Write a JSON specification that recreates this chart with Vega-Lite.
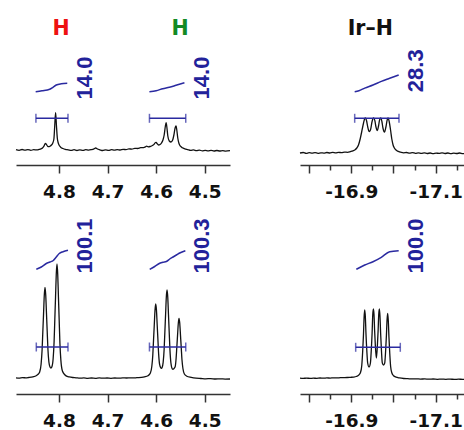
{
"$schema":"https://vega.github.io/schema/vega-lite/v6.json",
"padding":{"left":13,"top":10,"right":0,"bottom":0},
"bounds":"flush",
"columns":2,
"spacing":{"row":35,"column":70},
"config":{"view":{"stroke":null},"axis":{"domainColor":"#333","domainWidth":1.5,"tickColor":"#333","tickWidth":1.5,"labelFont":"DejaVu Sans","labelFontWeight":"bold","labelFontSize":18.5,"labelColor":"#111","labelPadding":9,"grid":false,"labelFlush":false,"labelOverlap":false}},
"concat":[
{"width":214,"height":155,
"layer":[
{"data":{"values":[
{"ppm":4.8885,"v":0.4},{"ppm":4.882,"v":-0.3},{"ppm":4.876,"v":0.5},{"ppm":4.870,"v":-0.2},{"ppm":4.864,"v":0.4},{"ppm":4.858,"v":-0.3},{"ppm":4.852,"v":0.3},{"ppm":4.846,"v":0.1},{"ppm":4.841,"v":0.6},{"ppm":4.837,"v":1.2},{"ppm":4.834,"v":2},{"ppm":4.831,"v":3.8},{"ppm":4.8285,"v":6.3},{"ppm":4.8275,"v":6.7},{"ppm":4.826,"v":5.6},{"ppm":4.8235,"v":3.8},{"ppm":4.821,"v":3.3},{"ppm":4.8185,"v":3.8},{"ppm":4.8155,"v":5},{"ppm":4.813,"v":6.8},{"ppm":4.8105,"v":11},{"ppm":4.8088,"v":24},{"ppm":4.807,"v":37.3},{"ppm":4.8052,"v":24},{"ppm":4.8035,"v":12},{"ppm":4.8015,"v":7},{"ppm":4.799,"v":4.2},{"ppm":4.796,"v":2.6},{"ppm":4.792,"v":1.5},{"ppm":4.787,"v":0.6},{"ppm":4.781,"v":0.2},{"ppm":4.775,"v":-0.4},{"ppm":4.769,"v":0.3},{"ppm":4.763,"v":-0.5},{"ppm":4.757,"v":0.2},{"ppm":4.751,"v":-0.4},{"ppm":4.745,"v":0.3},{"ppm":4.739,"v":-0.2},{"ppm":4.733,"v":0.4},{"ppm":4.728,"v":1.2},{"ppm":4.7245,"v":2},{"ppm":4.721,"v":1},{"ppm":4.716,"v":0.2},{"ppm":4.710,"v":-0.5},{"ppm":4.704,"v":0.1},{"ppm":4.698,"v":-0.4},{"ppm":4.692,"v":0.3},{"ppm":4.686,"v":-0.2},{"ppm":4.680,"v":0.4},{"ppm":4.674,"v":0},{"ppm":4.668,"v":0.6},{"ppm":4.662,"v":0.4},{"ppm":4.656,"v":1.1},{"ppm":4.650,"v":0.9},{"ppm":4.644,"v":1.6},{"ppm":4.638,"v":1.5},{"ppm":4.632,"v":2.3},{"ppm":4.626,"v":2.4},{"ppm":4.622,"v":3.1},{"ppm":4.6195,"v":3.8},{"ppm":4.6165,"v":3.2},{"ppm":4.6125,"v":3.5},{"ppm":4.6085,"v":4.3},{"ppm":4.6045,"v":5.6},{"ppm":4.6015,"v":7.5},{"ppm":4.600,"v":7.7},{"ppm":4.598,"v":6.3},{"ppm":4.595,"v":5},{"ppm":4.592,"v":5.5},{"ppm":4.589,"v":7},{"ppm":4.586,"v":10},{"ppm":4.5835,"v":15},{"ppm":4.581,"v":24},{"ppm":4.5795,"v":27.3},{"ppm":4.578,"v":23},{"ppm":4.576,"v":14},{"ppm":4.573,"v":9},{"ppm":4.5695,"v":8},{"ppm":4.566,"v":10},{"ppm":4.5635,"v":15},{"ppm":4.561,"v":22},{"ppm":4.559,"v":24},{"ppm":4.5575,"v":20},{"ppm":4.5555,"v":12},{"ppm":4.553,"v":6.5},{"ppm":4.550,"v":3.8},{"ppm":4.546,"v":2.2},{"ppm":4.541,"v":1.2},{"ppm":4.535,"v":0.4},{"ppm":4.529,"v":-0.4},{"ppm":4.523,"v":0.1},{"ppm":4.517,"v":-0.7},{"ppm":4.511,"v":-0.2},{"ppm":4.505,"v":-0.8},{"ppm":4.499,"v":-0.3},{"ppm":4.493,"v":-0.9},{"ppm":4.487,"v":-0.4},{"ppm":4.481,"v":-1.0},{"ppm":4.475,"v":-0.5},{"ppm":4.469,"v":-1.0},{"ppm":4.463,"v":-0.6},{"ppm":4.457,"v":-1.1},{"ppm":4.448,"v":-0.7}]},
"mark":{"type":"line","color":"#111","strokeWidth":1.3,"interpolate":"monotone"},
"encoding":{"x":{"field":"ppm","type":"quantitative","title":null,"scale":{"domain":[4.448,4.8885],"reverse":true,"nice":false,"zero":false},
"axis":{"values":[4.85,4.8,4.75,4.7,4.65,4.6,4.55,4.5],"labelExpr":"abs(datum.value*10-round(datum.value*10))<0.01 ? format(datum.value,'.1f') : ''","tickSize":{"condition":{"test":"abs(datum.value*10-round(datum.value*10))<0.01","value":8},"value":5}}},
"y":{"field":"v","type":"quantitative","axis":null,"scale":{"domain":[-15,140],"nice":false,"zero":false}}}},
{"data":{"values":[{"g":1,"ppm":4.848,"v":58.3},{"g":1,"ppm":4.835,"v":59.2},{"g":1,"ppm":4.8191,"v":60.7},{"g":1,"ppm":4.8124,"v":62.7},{"g":1,"ppm":4.8056,"v":65},{"g":1,"ppm":4.7953,"v":66.2},{"g":1,"ppm":4.783,"v":66.7},
{"g":2,"ppm":4.6139,"v":58.3},{"g":2,"ppm":4.6,"v":59.3},{"g":2,"ppm":4.5864,"v":61.3},{"g":2,"ppm":4.5727,"v":62.7},{"g":2,"ppm":4.5591,"v":64.7},{"g":2,"ppm":4.5418,"v":67.3}]},
"mark":{"type":"line","color":"#2a2aa0","strokeWidth":1.5,"interpolate":"monotone"},
"encoding":{"x":{"field":"ppm","type":"quantitative","title":null},"y":{"field":"v","type":"quantitative"},"detail":{"field":"g"}}},
{"data":{"values":[{"a":4.8475,"b":4.7815,"v":31.7},{"a":4.6138,"b":4.5391,"v":31.7}]},
"mark":{"type":"rule","color":"#2a2aa0","strokeWidth":1.5},
"encoding":{"x":{"field":"a","type":"quantitative","title":null},"x2":{"field":"b"},"y":{"field":"v","type":"quantitative"}}},
{"data":{"values":[{"a":4.8475,"b":4.7815,"v":31.7},{"a":4.6138,"b":4.5391,"v":31.7}]},
"transform":[{"fold":["a","b"],"as":["end","ppm"]}],
"mark":{"type":"tick","orient":"vertical","color":"#2a2aa0","size":9,"thickness":1.5},
"encoding":{"x":{"field":"ppm","type":"quantitative","title":null},"y":{"field":"v","type":"quantitative"}}},
{"data":{"values":[{"ppm":4.7471,"v":72,"t":"14.0"},{"ppm":4.5056,"v":72,"t":"14.0"}]},
"mark":{"type":"text","angle":270,"align":"center","baseline":"middle","font":"Liberation Sans","fontWeight":"bold","fontSize":22,"color":"#22229a"},
"encoding":{"x":{"field":"ppm","type":"quantitative","title":null},"y":{"field":"v","type":"quantitative"},"text":{"field":"t"}}},
{"data":{"values":[{"ppm":4.7959,"v":120.7,"t":"H"}]},
"mark":{"type":"text","align":"center","baseline":"middle","font":"DejaVu Sans","fontWeight":"bold","fontSize":20.5,"color":"#ee1111"},
"encoding":{"x":{"field":"ppm","type":"quantitative","title":null},"y":{"field":"v","type":"quantitative"},"text":{"field":"t"}}},
{"data":{"values":[{"ppm":4.5508,"v":120.7,"t":"H"}]},
"mark":{"type":"text","align":"center","baseline":"middle","font":"DejaVu Sans","fontWeight":"bold","fontSize":20.5,"color":"#138a24"},
"encoding":{"x":{"field":"ppm","type":"quantitative","title":null},"y":{"field":"v","type":"quantitative"},"text":{"field":"t"}}}
]},
{"width":167,"height":155,
"layer":[
{"data":{"values":[
{"ppm":-16.7784,"v":-3.0},{"ppm":-16.786,"v":-2.5},{"ppm":-16.793,"v":-3.4},{"ppm":-16.800,"v":-2.7},{"ppm":-16.807,"v":-3.2},{"ppm":-16.814,"v":-2.6},{"ppm":-16.821,"v":-3.3},{"ppm":-16.828,"v":-2.8},{"ppm":-16.835,"v":-3.1},{"ppm":-16.842,"v":-2.5},{"ppm":-16.849,"v":-3.0},{"ppm":-16.856,"v":-2.4},{"ppm":-16.863,"v":-2.9},{"ppm":-16.870,"v":-2.3},{"ppm":-16.877,"v":-2.7},{"ppm":-16.884,"v":-2.1},{"ppm":-16.891,"v":-2.3},{"ppm":-16.898,"v":-1.6},{"ppm":-16.904,"v":-0.8},{"ppm":-16.909,"v":0.3},{"ppm":-16.913,"v":2},{"ppm":-16.917,"v":5},{"ppm":-16.921,"v":11},{"ppm":-16.925,"v":19},{"ppm":-16.929,"v":27},{"ppm":-16.9315,"v":31},{"ppm":-16.9336,"v":32},{"ppm":-16.936,"v":29.5},{"ppm":-16.939,"v":23},{"ppm":-16.9415,"v":19},{"ppm":-16.9435,"v":18.5},{"ppm":-16.946,"v":21},{"ppm":-16.949,"v":28},{"ppm":-16.951,"v":31},{"ppm":-16.9533,"v":32},{"ppm":-16.956,"v":29},{"ppm":-16.9585,"v":23},{"ppm":-16.9616,"v":19.5},{"ppm":-16.9645,"v":24},{"ppm":-16.967,"v":30},{"ppm":-16.9699,"v":32},{"ppm":-16.9725,"v":28.5},{"ppm":-16.975,"v":22},{"ppm":-16.9787,"v":18},{"ppm":-16.982,"v":23},{"ppm":-16.985,"v":30},{"ppm":-16.9874,"v":32},{"ppm":-16.990,"v":28},{"ppm":-16.993,"v":20},{"ppm":-16.996,"v":11},{"ppm":-16.999,"v":5},{"ppm":-17.002,"v":2},{"ppm":-17.006,"v":0},{"ppm":-17.011,"v":-1.4},{"ppm":-17.017,"v":-2.2},{"ppm":-17.024,"v":-2.8},{"ppm":-17.031,"v":-2.5},{"ppm":-17.038,"v":-3.2},{"ppm":-17.045,"v":-2.6},{"ppm":-17.052,"v":-3.3},{"ppm":-17.059,"v":-2.8},{"ppm":-17.066,"v":-3.4},{"ppm":-17.073,"v":-2.9},{"ppm":-17.080,"v":-3.5},{"ppm":-17.087,"v":-3.0},{"ppm":-17.094,"v":-3.6},{"ppm":-17.101,"v":-3.1},{"ppm":-17.108,"v":-3.4},{"ppm":-17.115,"v":-2.9},{"ppm":-17.122,"v":-3.5},{"ppm":-17.129,"v":-3.0},{"ppm":-17.136,"v":-3.6},{"ppm":-17.143,"v":-3.1},{"ppm":-17.150,"v":-3.5},{"ppm":-17.157,"v":-3.0},{"ppm":-17.164,"v":-3.6},{"ppm":-17.1742,"v":-3.2}]},
"mark":{"type":"line","color":"#111","strokeWidth":1.3,"interpolate":"monotone"},
"encoding":{"x":{"field":"ppm","type":"quantitative","title":null,"scale":{"domain":[-17.1742,-16.7784],"reverse":true,"nice":false,"zero":false},
"axis":{"values":[-16.8,-16.85,-16.9,-16.95,-17.0,-17.05,-17.1,-17.15],"labelExpr":"abs(datum.value*10-round(datum.value*10))<0.01 && round(datum.value*10) % 2 != 0 ? '-' + format(-datum.value,'.1f') : ''","tickSize":{"condition":{"test":"abs(datum.value*10-round(datum.value*10))<0.01","value":8},"value":5}}},
"y":{"field":"v","type":"quantitative","axis":null,"scale":{"domain":[-15,140],"nice":false,"zero":false}}}},
{"data":{"values":[{"ppm":-16.908,"v":58.3},{"ppm":-16.918,"v":59.3},{"ppm":-16.9318,"v":61.9},{"ppm":-16.9514,"v":65},{"ppm":-16.9711,"v":68.6},{"ppm":-16.991,"v":71.7},{"ppm":-17.0123,"v":75}]},
"mark":{"type":"line","color":"#2a2aa0","strokeWidth":1.5,"interpolate":"monotone"},
"encoding":{"x":{"field":"ppm","type":"quantitative","title":null,"axis":{"values":[-16.8,-16.85,-16.9,-16.95,-17.0,-17.05,-17.1,-17.15],"labelExpr":"abs(datum.value*10-round(datum.value*10))<0.01 && round(datum.value*10) % 2 != 0 ? '-' + format(-datum.value,'.1f') : ''","tickSize":{"condition":{"test":"abs(datum.value*10-round(datum.value*10))<0.01","value":8},"value":5}}},"y":{"field":"v","type":"quantitative"}}},
{"data":{"values":[{"a":-16.908,"b":-17.013,"v":31.7}]},
"mark":{"type":"rule","color":"#2a2aa0","strokeWidth":1.5},
"encoding":{"x":{"field":"a","type":"quantitative","title":null,"axis":{"values":[-16.8,-16.85,-16.9,-16.95,-17.0,-17.05,-17.1,-17.15],"labelExpr":"abs(datum.value*10-round(datum.value*10))<0.01 && round(datum.value*10) % 2 != 0 ? '-' + format(-datum.value,'.1f') : ''","tickSize":{"condition":{"test":"abs(datum.value*10-round(datum.value*10))<0.01","value":8},"value":5}}},"x2":{"field":"b"},"y":{"field":"v","type":"quantitative"}}},
{"data":{"values":[{"a":-16.908,"b":-17.013,"v":31.7}]},
"transform":[{"fold":["a","b"],"as":["end","ppm"]}],
"mark":{"type":"tick","orient":"vertical","color":"#2a2aa0","size":9,"thickness":1.5},
"encoding":{"x":{"field":"ppm","type":"quantitative","title":null,"axis":{"values":[-16.8,-16.85,-16.9,-16.95,-17.0,-17.05,-17.1,-17.15],"labelExpr":"abs(datum.value*10-round(datum.value*10))<0.01 && round(datum.value*10) % 2 != 0 ? '-' + format(-datum.value,'.1f') : ''","tickSize":{"condition":{"test":"abs(datum.value*10-round(datum.value*10))<0.01","value":8},"value":5}}},"y":{"field":"v","type":"quantitative"}}},
{"data":{"values":[{"ppm":-17.054,"v":79.2,"t":"28.3"}]},
"mark":{"type":"text","angle":270,"align":"center","baseline":"middle","font":"Liberation Sans","fontWeight":"bold","fontSize":22,"color":"#22229a"},
"encoding":{"x":{"field":"ppm","type":"quantitative","title":null,"axis":{"values":[-16.8,-16.85,-16.9,-16.95,-17.0,-17.05,-17.1,-17.15],"labelExpr":"abs(datum.value*10-round(datum.value*10))<0.01 && round(datum.value*10) % 2 != 0 ? '-' + format(-datum.value,'.1f') : ''","tickSize":{"condition":{"test":"abs(datum.value*10-round(datum.value*10))<0.01","value":8},"value":5}}},"y":{"field":"v","type":"quantitative"},"text":{"field":"t"}}},
{"data":{"values":[{"ppm":-16.945,"v":121,"t":"Ir–H"}]},
"mark":{"type":"text","align":"center","baseline":"middle","font":"DejaVu Sans","fontWeight":"bold","fontSize":20.5,"color":"#111"},
"encoding":{"x":{"field":"ppm","type":"quantitative","title":null,"axis":{"values":[-16.8,-16.85,-16.9,-16.95,-17.0,-17.05,-17.1,-17.15],"labelExpr":"abs(datum.value*10-round(datum.value*10))<0.01 && round(datum.value*10) % 2 != 0 ? '-' + format(-datum.value,'.1f') : ''","tickSize":{"condition":{"test":"abs(datum.value*10-round(datum.value*10))<0.01","value":8},"value":5}}},"y":{"field":"v","type":"quantitative"},"text":{"field":"t"}}}
]},
{"width":214,"height":194,
"layer":[
{"data":{"values":[
{"ppm":4.8885,"v":0.2},{"ppm":4.882,"v":-0.1},{"ppm":4.875,"v":0.3},{"ppm":4.868,"v":0.2},{"ppm":4.862,"v":0.5},{"ppm":4.857,"v":0.8},{"ppm":4.852,"v":1.3},{"ppm":4.847,"v":2.3},{"ppm":4.8425,"v":4},{"ppm":4.8398,"v":6},{"ppm":4.8368,"v":14},{"ppm":4.8348,"v":28},{"ppm":4.8333,"v":46},{"ppm":4.8318,"v":64},{"ppm":4.8303,"v":82.5},{"ppm":4.8288,"v":90.7},{"ppm":4.8273,"v":83},{"ppm":4.8258,"v":65},{"ppm":4.8243,"v":47},{"ppm":4.8228,"v":29},{"ppm":4.8208,"v":16},{"ppm":4.8185,"v":11},{"ppm":4.8165,"v":10},{"ppm":4.8148,"v":11},{"ppm":4.8121,"v":19},{"ppm":4.8101,"v":36},{"ppm":4.8086,"v":58.6},{"ppm":4.8071,"v":81},{"ppm":4.8056,"v":104},{"ppm":4.8041,"v":114},{"ppm":4.8026,"v":103.5},{"ppm":4.8011,"v":80.6},{"ppm":4.7996,"v":57.7},{"ppm":4.7981,"v":34.8},{"ppm":4.7961,"v":17.6},{"ppm":4.7931,"v":7.2},{"ppm":4.7881,"v":3.2},{"ppm":4.783,"v":1.6},{"ppm":4.7791,"v":1.1},{"ppm":4.772,"v":0.5},{"ppm":4.765,"v":0.2},{"ppm":4.757,"v":-0.2},{"ppm":4.749,"v":0.1},{"ppm":4.741,"v":-0.3},{"ppm":4.733,"v":0},{"ppm":4.725,"v":-0.3},{"ppm":4.717,"v":0.1},{"ppm":4.709,"v":-0.2},{"ppm":4.701,"v":0},{"ppm":4.693,"v":-0.3},{"ppm":4.685,"v":0},{"ppm":4.677,"v":-0.2},{"ppm":4.669,"v":0.1},{"ppm":4.661,"v":0},{"ppm":4.653,"v":0.2},{"ppm":4.645,"v":0.1},{"ppm":4.640,"v":0.3},{"ppm":4.630,"v":0.6},{"ppm":4.624,"v":1.1},{"ppm":4.6169,"v":2.2},{"ppm":4.6119,"v":4.9},{"ppm":4.6089,"v":11.7},{"ppm":4.6069,"v":23},{"ppm":4.6054,"v":38},{"ppm":4.6039,"v":52.8},{"ppm":4.6024,"v":67.5},{"ppm":4.6009,"v":74},{"ppm":4.5994,"v":68},{"ppm":4.5979,"v":53.3},{"ppm":4.5964,"v":38.7},{"ppm":4.5949,"v":24.1},{"ppm":4.5929,"v":13.6},{"ppm":4.5905,"v":10.2},{"ppm":4.5892,"v":9.7},{"ppm":4.5879,"v":10.3},{"ppm":4.5856,"v":15.6},{"ppm":4.5836,"v":28.5},{"ppm":4.5821,"v":45.8},{"ppm":4.5806,"v":63.3},{"ppm":4.5791,"v":80.8},{"ppm":4.5776,"v":88},{"ppm":4.5761,"v":80.6},{"ppm":4.5746,"v":63},{"ppm":4.5731,"v":45.5},{"ppm":4.5716,"v":28.1},{"ppm":4.5696,"v":15},{"ppm":4.5668,"v":9.2},{"ppm":4.5653,"v":8.7},{"ppm":4.5638,"v":9.3},{"ppm":4.5609,"v":11.2},{"ppm":4.5589,"v":19.8},{"ppm":4.5574,"v":31.4},{"ppm":4.5559,"v":43.1},{"ppm":4.5544,"v":54.8},{"ppm":4.5529,"v":59.7},{"ppm":4.5514,"v":54.6},{"ppm":4.5499,"v":42.6},{"ppm":4.5484,"v":30.6},{"ppm":4.5469,"v":18.5},{"ppm":4.5449,"v":9.5},{"ppm":4.5419,"v":4},{"ppm":4.5369,"v":1.8},{"ppm":4.5279,"v":0.6},{"ppm":4.518,"v":-0.2},{"ppm":4.508,"v":-0.5},{"ppm":4.498,"v":-0.8},{"ppm":4.488,"v":-0.6},{"ppm":4.478,"v":-1.0},{"ppm":4.468,"v":-0.8},{"ppm":4.458,"v":-1.1},{"ppm":4.448,"v":-1.0}]},
"mark":{"type":"line","color":"#111","strokeWidth":1.3,"interpolate":"monotone"},
"encoding":{"x":{"field":"ppm","type":"quantitative","title":null,"scale":{"domain":[4.448,4.8885],"reverse":true,"nice":false,"zero":false},
"axis":{"values":[4.85,4.8,4.75,4.7,4.65,4.6,4.55,4.5],"labelExpr":"abs(datum.value*10-round(datum.value*10))<0.01 ? format(datum.value,'.1f') : ''","tickSize":{"condition":{"test":"abs(datum.value*10-round(datum.value*10))<0.01","value":8},"value":5}}},
"y":{"field":"v","type":"quantitative","axis":null,"scale":{"domain":[-16,178],"nice":false,"zero":false}}}},
{"data":{"values":[{"g":1,"ppm":4.8467,"v":108.7},{"g":1,"ppm":4.8364,"v":111},{"g":1,"ppm":4.8261,"v":114.5},{"g":1,"ppm":4.8185,"v":116},{"g":1,"ppm":4.8117,"v":117.5},{"g":1,"ppm":4.8056,"v":121},{"g":1,"ppm":4.7995,"v":124.5},{"g":1,"ppm":4.7918,"v":126.3},{"g":1,"ppm":4.7815,"v":127.8},
{"g":2,"ppm":4.6133,"v":108.7},{"g":2,"ppm":4.603,"v":111.5},{"g":2,"ppm":4.5927,"v":114.7},{"g":2,"ppm":4.5859,"v":115.8},{"g":2,"ppm":4.579,"v":116.5},{"g":2,"ppm":4.5721,"v":119},{"g":2,"ppm":4.5652,"v":121},{"g":2,"ppm":4.5584,"v":123},{"g":2,"ppm":4.5515,"v":125},{"g":2,"ppm":4.5399,"v":127.3}]},
"mark":{"type":"line","color":"#2a2aa0","strokeWidth":1.5,"interpolate":"monotone"},
"encoding":{"x":{"field":"ppm","type":"quantitative","title":null},"y":{"field":"v","type":"quantitative"},"detail":{"field":"g"}}},
{"data":{"values":[{"a":4.8467,"b":4.7815,"v":31},{"a":4.6138,"b":4.5391,"v":31}]},
"mark":{"type":"rule","color":"#2a2aa0","strokeWidth":1.5},
"encoding":{"x":{"field":"a","type":"quantitative","title":null},"x2":{"field":"b"},"y":{"field":"v","type":"quantitative"}}},
{"data":{"values":[{"a":4.8467,"b":4.7815,"v":31},{"a":4.6138,"b":4.5391,"v":31}]},
"transform":[{"fold":["a","b"],"as":["end","ppm"]}],
"mark":{"type":"tick","orient":"vertical","color":"#2a2aa0","size":9,"thickness":1.5},
"encoding":{"x":{"field":"ppm","type":"quantitative","title":null},"y":{"field":"v","type":"quantitative"}}},
{"data":{"values":[{"ppm":4.7471,"v":132,"t":"100.1"},{"ppm":4.5056,"v":132,"t":"100.3"}]},
"mark":{"type":"text","angle":270,"align":"center","baseline":"middle","font":"Liberation Sans","fontWeight":"bold","fontSize":22,"color":"#22229a"},
"encoding":{"x":{"field":"ppm","type":"quantitative","title":null},"y":{"field":"v","type":"quantitative"},"text":{"field":"t"}}}
]},
{"width":167,"height":194,
"layer":[
{"data":{"values":[
{"ppm":-16.7784,"v":-0.2},{"ppm":-16.786,"v":-0.4},{"ppm":-16.794,"v":-0.1},{"ppm":-16.802,"v":-0.4},{"ppm":-16.810,"v":-0.2},{"ppm":-16.818,"v":-0.3},{"ppm":-16.826,"v":0},{"ppm":-16.834,"v":-0.2},{"ppm":-16.842,"v":0.1},{"ppm":-16.850,"v":-0.1},{"ppm":-16.858,"v":0.2},{"ppm":-16.866,"v":0.1},{"ppm":-16.874,"v":0.3},{"ppm":-16.882,"v":0.4},{"ppm":-16.890,"v":0.5},{"ppm":-16.898,"v":0.7},{"ppm":-16.905,"v":0.9},{"ppm":-16.9118,"v":1.5},{"ppm":-16.9178,"v":3},{"ppm":-16.9218,"v":5.5},{"ppm":-16.9248,"v":12.5},{"ppm":-16.9268,"v":25.5},{"ppm":-16.9288,"v":43},{"ppm":-16.9303,"v":60.5},{"ppm":-16.9318,"v":68},{"ppm":-16.9333,"v":61},{"ppm":-16.9348,"v":44},{"ppm":-16.9368,"v":27},{"ppm":-16.9388,"v":15},{"ppm":-16.942,"v":11},{"ppm":-16.9453,"v":15},{"ppm":-16.9473,"v":27.5},{"ppm":-16.9493,"v":45},{"ppm":-16.9508,"v":63},{"ppm":-16.9523,"v":69},{"ppm":-16.9538,"v":63.5},{"ppm":-16.9553,"v":47},{"ppm":-16.9568,"v":34},{"ppm":-16.9594,"v":20},{"ppm":-16.962,"v":34},{"ppm":-16.9635,"v":47},{"ppm":-16.965,"v":63.5},{"ppm":-16.9665,"v":69},{"ppm":-16.968,"v":61.5},{"ppm":-16.9695,"v":44.5},{"ppm":-16.9715,"v":27},{"ppm":-16.9735,"v":15},{"ppm":-16.9764,"v":13},{"ppm":-16.9792,"v":15},{"ppm":-16.9812,"v":26},{"ppm":-16.9832,"v":42.5},{"ppm":-16.9847,"v":58},{"ppm":-16.9862,"v":64.7},{"ppm":-16.9877,"v":57.3},{"ppm":-16.9892,"v":41},{"ppm":-16.9912,"v":24},{"ppm":-16.9932,"v":11.5},{"ppm":-16.9962,"v":5},{"ppm":-17.0002,"v":2.3},{"ppm":-17.0062,"v":0.9},{"ppm":-17.014,"v":0.1},{"ppm":-17.024,"v":-0.5},{"ppm":-17.034,"v":-0.7},{"ppm":-17.044,"v":-0.9},{"ppm":-17.054,"v":-0.8},{"ppm":-17.064,"v":-1.1},{"ppm":-17.074,"v":-0.9},{"ppm":-17.084,"v":-1.2},{"ppm":-17.094,"v":-1.0},{"ppm":-17.104,"v":-1.3},{"ppm":-17.114,"v":-1.1},{"ppm":-17.124,"v":-1.3},{"ppm":-17.134,"v":-1.1},{"ppm":-17.144,"v":-1.4},{"ppm":-17.154,"v":-1.2},{"ppm":-17.164,"v":-1.3},{"ppm":-17.1742,"v":-1.2}]},
"mark":{"type":"line","color":"#111","strokeWidth":1.3,"interpolate":"monotone"},
"encoding":{"x":{"field":"ppm","type":"quantitative","title":null,"scale":{"domain":[-17.1742,-16.7784],"reverse":true,"nice":false,"zero":false},
"axis":{"values":[-16.8,-16.85,-16.9,-16.95,-17.0,-17.05,-17.1,-17.15],"labelExpr":"abs(datum.value*10-round(datum.value*10))<0.01 && round(datum.value*10) % 2 != 0 ? '-' + format(-datum.value,'.1f') : ''","tickSize":{"condition":{"test":"abs(datum.value*10-round(datum.value*10))<0.01","value":8},"value":5}}},
"y":{"field":"v","type":"quantitative","axis":null,"scale":{"domain":[-16,178],"nice":false,"zero":false}}}},
{"data":{"values":[{"ppm":-16.912,"v":108.7},{"ppm":-16.9318,"v":113},{"ppm":-16.9514,"v":116.3},{"ppm":-16.9711,"v":120.7},{"ppm":-16.991,"v":126.3},{"ppm":-17.0123,"v":127.3}]},
"mark":{"type":"line","color":"#2a2aa0","strokeWidth":1.5,"interpolate":"monotone"},
"encoding":{"x":{"field":"ppm","type":"quantitative","title":null,"axis":{"values":[-16.8,-16.85,-16.9,-16.95,-17.0,-17.05,-17.1,-17.15],"labelExpr":"abs(datum.value*10-round(datum.value*10))<0.01 && round(datum.value*10) % 2 != 0 ? '-' + format(-datum.value,'.1f') : ''","tickSize":{"condition":{"test":"abs(datum.value*10-round(datum.value*10))<0.01","value":8},"value":5}}},"y":{"field":"v","type":"quantitative"}}},
{"data":{"values":[{"a":-16.9104,"b":-17.0161,"v":30.7}]},
"mark":{"type":"rule","color":"#2a2aa0","strokeWidth":1.5},
"encoding":{"x":{"field":"a","type":"quantitative","title":null,"axis":{"values":[-16.8,-16.85,-16.9,-16.95,-17.0,-17.05,-17.1,-17.15],"labelExpr":"abs(datum.value*10-round(datum.value*10))<0.01 && round(datum.value*10) % 2 != 0 ? '-' + format(-datum.value,'.1f') : ''","tickSize":{"condition":{"test":"abs(datum.value*10-round(datum.value*10))<0.01","value":8},"value":5}}},"x2":{"field":"b"},"y":{"field":"v","type":"quantitative"}}},
{"data":{"values":[{"a":-16.9104,"b":-17.0161,"v":30.7}]},
"transform":[{"fold":["a","b"],"as":["end","ppm"]}],
"mark":{"type":"tick","orient":"vertical","color":"#2a2aa0","size":9,"thickness":1.5},
"encoding":{"x":{"field":"ppm","type":"quantitative","title":null,"axis":{"values":[-16.8,-16.85,-16.9,-16.95,-17.0,-17.05,-17.1,-17.15],"labelExpr":"abs(datum.value*10-round(datum.value*10))<0.01 && round(datum.value*10) % 2 != 0 ? '-' + format(-datum.value,'.1f') : ''","tickSize":{"condition":{"test":"abs(datum.value*10-round(datum.value*10))<0.01","value":8},"value":5}}},"y":{"field":"v","type":"quantitative"}}},
{"data":{"values":[{"ppm":-17.054,"v":132,"t":"100.0"}]},
"mark":{"type":"text","angle":270,"align":"center","baseline":"middle","font":"Liberation Sans","fontWeight":"bold","fontSize":22,"color":"#22229a"},
"encoding":{"x":{"field":"ppm","type":"quantitative","title":null,"axis":{"values":[-16.8,-16.85,-16.9,-16.95,-17.0,-17.05,-17.1,-17.15],"labelExpr":"abs(datum.value*10-round(datum.value*10))<0.01 && round(datum.value*10) % 2 != 0 ? '-' + format(-datum.value,'.1f') : ''","tickSize":{"condition":{"test":"abs(datum.value*10-round(datum.value*10))<0.01","value":8},"value":5}}},"y":{"field":"v","type":"quantitative"},"text":{"field":"t"}}}
]}
]}
